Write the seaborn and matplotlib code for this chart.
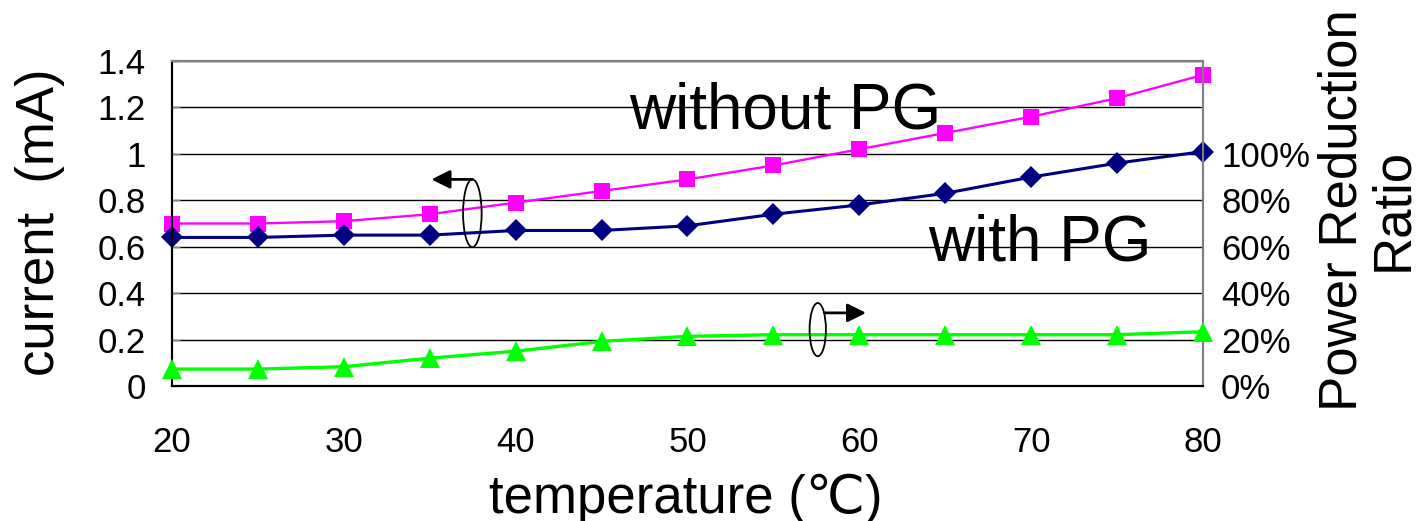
import matplotlib
matplotlib.use("Agg")
import matplotlib.pyplot as plt
from matplotlib.patches import Ellipse
import seaborn as sns

# data
temperature = [20, 25, 30, 35, 40, 45, 50, 55, 60, 65, 70, 75, 80]
current_without_pg = [0.70, 0.70, 0.71, 0.74, 0.79, 0.84, 0.89, 0.95, 1.02, 1.09, 1.16, 1.24, 1.34]
current_with_pg = [0.64, 0.64, 0.65, 0.65, 0.67, 0.67, 0.69, 0.74, 0.78, 0.83, 0.90, 0.96, 1.01]
power_reduction = [7.3, 7.3, 8.3, 12.0, 15.0, 19.2, 21.4, 22.1, 22.1, 22.1, 22.1, 22.1, 23.4]

left_ticks = [0, 0.2, 0.4, 0.6, 0.8, 1.0, 1.2, 1.4]
right_ticks = [0, 20, 40, 60, 80, 100]
x_ticks = [20, 30, 40, 50, 60, 70, 80]

sns.set_style("white")
plt.rcParams["font.family"] = ["Liberation Sans", "DejaVu Sans"]
plt.rcParams["text.color"] = "black"
plt.rcParams["axes.labelcolor"] = "black"
plt.rcParams["xtick.labelcolor"] = "black"
plt.rcParams["ytick.labelcolor"] = "black"

fig = plt.figure(figsize=(14.2, 5.21), dpi=100)
ax = fig.add_axes([0.1211, 0.2591, 0.7261, 0.6238])
ax2 = ax.twinx()

sns.lineplot(x=temperature, y=current_without_pg, ax=ax, color="#FF00FF",
             marker="s", markersize=12, markeredgewidth=0, linewidth=1.7,
             clip_on=False, zorder=5)
sns.lineplot(x=temperature, y=current_with_pg, ax=ax, color="#000080",
             marker="D", markersize=11.5, markeredgewidth=0, linewidth=2.2,
             clip_on=False, zorder=5)
sns.lineplot(x=temperature, y=power_reduction, ax=ax2, color="#00FF00",
             marker="^", markersize=15, markeredgewidth=0, linewidth=2.4,
             clip_on=False, zorder=5)

# axes
ax.set_xlim(20, 80)
ax.set_ylim(0, 1.4)
ax2.set_ylim(0, 140)
ax.set_xticks(x_ticks)
ax.set_yticks(left_ticks)
ax.set_yticklabels([f"{v:g}" for v in left_ticks])
ax2.set_yticks(right_ticks)
ax2.set_yticklabels([f"{v}%" for v in right_ticks])

ax.grid(axis="y", color="black", linewidth=1)
ax.set_axisbelow(True)

for a in (ax, ax2):
    a.spines["left"].set_color("black")
    a.spines["bottom"].set_color("black")
    a.spines["top"].set_color("#808080")
    a.spines["right"].set_color("#808080")
    for s in a.spines.values():
        s.set_linewidth(1.5)

ax.tick_params(axis="x", direction="in", length=8, width=1, color="#808080",
               labelsize=25, pad=29)
ax.tick_params(axis="y", direction="in", length=6, width=1, color="#808080",
               labelsize=25, pad=19)
ax2.tick_params(axis="y", length=0, labelsize=25, pad=13)

ax.set_xlabel("temperature (\u2103)", fontsize=38)
ax.xaxis.label.set_va("baseline")
ax.xaxis.set_label_coords(0.4985, -0.39)

ax.set_ylabel("current  (mA)", fontsize=38, va="center", ha="center")
ax.yaxis.set_label_coords(-0.128, 0.505)

ax2.set_ylabel("Power Reduction\nRatio", fontsize=38, linespacing=1.0,
               va="center", ha="center")
ax2.yaxis.set_label_coords(1.16, 0.542)

# annotations
ax.text(46.6, 1.108, "without PG", fontsize=46, ha="left", va="baseline")
ax.text(64.0, 0.539, "with PG", fontsize=46, ha="left", va="baseline")

ax.add_patch(Ellipse((37.48, 0.744), 1.08, 0.292, facecolor="none",
                     edgecolor="black", linewidth=1.3, zorder=6))
ax.annotate("", xy=(35.1, 0.890), xytext=(37.48, 0.890),
            arrowprops=dict(arrowstyle="-|>", color="black", lw=2,
                            mutation_scale=28, shrinkA=0, shrinkB=0))

ax2.add_patch(Ellipse((57.58, 24.3), 0.95, 22.9, facecolor="none",
                      edgecolor="black", linewidth=1.3, zorder=6))
ax2.annotate("", xy=(60.39, 31.5), xytext=(57.98, 31.5),
             arrowprops=dict(arrowstyle="-|>", color="black", lw=2,
                             mutation_scale=28, shrinkA=0, shrinkB=0))

fig.savefig("out.png", dpi=100)
